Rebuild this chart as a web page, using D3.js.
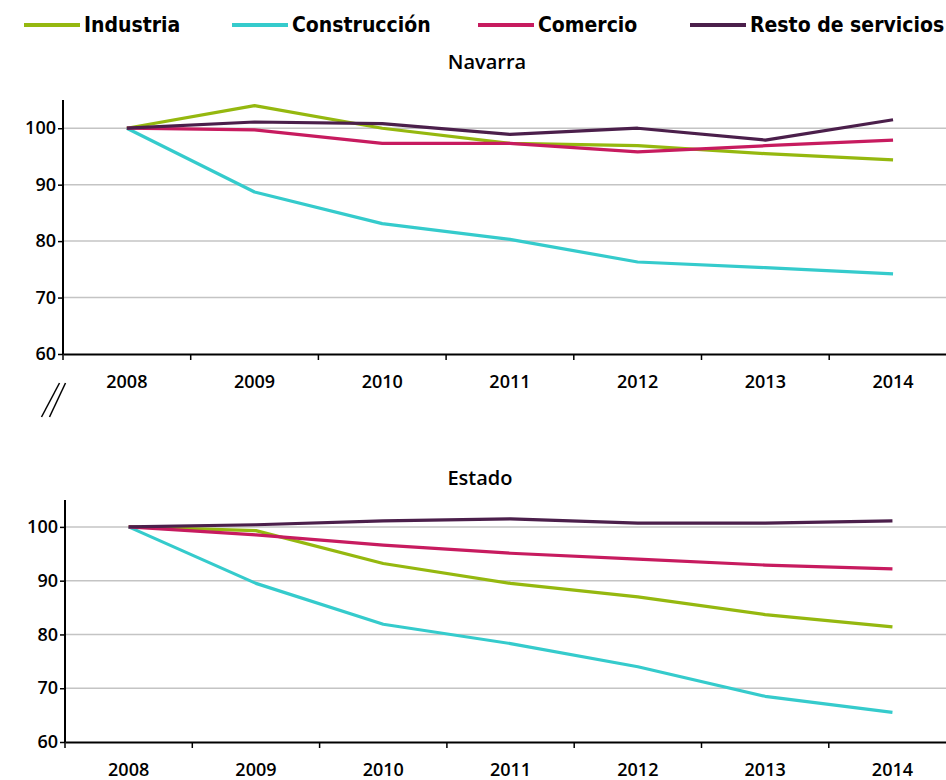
<!DOCTYPE html>
<html>
<head>
<meta charset="utf-8">
<script src="https://cdn.jsdelivr.net/npm/d3@7"></script>
<style>
  body { margin: 0; background: #fff; }
  svg text { font-family: "Open Sans", "Noto Sans", sans-serif; fill: #000; }
  .legend text { font-family: "DejaVu Sans Condensed", "DejaVu Sans", sans-serif; font-stretch: condensed; font-weight: bold; font-size: 21px; }
</style>
</head>
<body>
<div id="chart"></div>
<script>
const years = ["2008", "2009", "2010", "2011", "2012", "2013", "2014"];
const seriesNames = ["Industria", "Construcción", "Comercio", "Resto de servicios"];
const seriesColors = ["#95b80f", "#35cbcc", "#c71b5f", "#4b1f4b"];
const yTicks = [60, 70, 80, 90, 100];

// Navarra
const navIndustria = [100, 104.0, 100.0, 97.3, 96.9, 95.5, 94.4];
const navConstruccion = [100, 88.7, 83.1, 80.3, 76.3, 75.3, 74.2];
const navComercio = [100, 99.7, 97.3, 97.3, 95.8, 96.9, 97.9];
const navResto = [100, 101.1, 100.8, 98.9, 100.0, 97.9, 101.5];

// Estado
const estIndustria = [100, 99.3, 93.2, 89.5, 87.0, 83.7, 81.4];
const estConstruccion = [100, 89.5, 81.9, 78.3, 74.0, 68.5, 65.5];
const estComercio = [100, 98.5, 96.6, 95.1, 94.0, 92.9, 92.2];
const estResto = [100, 100.4, 101.1, 101.5, 100.7, 100.7, 101.1];

const width = 946, height = 780;
const svg = d3.select("#chart").append("svg")
  .attr("width", width)
  .attr("height", height);

// legend
const legendPos = [24, 232, 478, 690];
const legend = svg.append("g").attr("class", "legend")
  .selectAll("g")
  .data(seriesNames)
  .enter()
  .append("g")
  .attr("transform", (d, i) => "translate(" + legendPos[i] + ",25)");
legend.append("line")
  .attr("x1", 0).attr("x2", 56)
  .attr("stroke", (d, i) => seriesColors[i])
  .attr("stroke-width", 4);
legend.append("text")
  .attr("x", 60)
  .attr("dy", "0.35em")
  .text(d => d);

function drawPanel(cfg) {
  const g = svg.append("g");
  const x = d3.scaleBand().domain(years).range([cfg.left, cfg.left + years.length * cfg.band]);
  const y = d3.scaleLinear().domain([60, 105]).range([cfg.bottom, cfg.top]);

  g.append("text")
    .attr("x", cfg.titleX)
    .attr("y", cfg.titleY)
    .attr("text-anchor", "middle")
    .attr("font-size", 20)
    .attr("font-weight", 600)
    .text(cfg.title);

  // gridlines
  g.append("g").selectAll("line")
    .data(yTicks.slice(1))
    .enter()
    .append("line")
    .attr("x1", cfg.left).attr("x2", width)
    .attr("y1", d => y(d)).attr("y2", d => y(d))
    .attr("stroke", "#c4c4c4")
    .attr("stroke-width", 1.5);

  // y axis
  const yAxis = g.append("g")
    .attr("transform", "translate(" + cfg.left + ",0)")
    .call(d3.axisLeft(y).tickValues(yTicks).tickSize(5).tickPadding(2));
  yAxis.select(".domain").attr("stroke", "#000").attr("stroke-width", 2)
    .attr("d", "M0," + cfg.top + "V" + cfg.bottom);
  yAxis.selectAll(".tick line").attr("stroke", "#000").attr("stroke-width", 1.5);
  yAxis.selectAll("text")
    .attr("font-size", 18)
    .attr("font-weight", 600)
    .attr("fill", "#000")
    .attr("font-family", "'Open Sans', sans-serif");

  // x axis
  const xAxis = g.append("g")
    .attr("transform", "translate(0," + cfg.bottom + ")")
    .call(d3.axisBottom(x).tickSize(0).tickPadding(21));
  xAxis.select(".domain").attr("stroke", "#000").attr("stroke-width", 2);
  xAxis.selectAll("text")
    .attr("font-size", 18)
    .attr("font-weight", 600)
    .attr("fill", "#000")
    .attr("font-family", "'Open Sans', sans-serif");
  xAxis.selectAll(".bound")
    .data(years)
    .enter()
    .append("line")
    .attr("class", "bound")
    .attr("x1", d => x(d)).attr("x2", d => x(d))
    .attr("y1", 0).attr("y2", 6)
    .attr("stroke", "#000")
    .attr("stroke-width", 1.5);

  const line = d3.line()
    .x((d, i) => x(years[i]) + x.bandwidth() / 2)
    .y(d => y(d));

  g.append("g").selectAll("path")
    .data(cfg.series)
    .enter()
    .append("path")
    .attr("d", d => line(d))
    .attr("fill", "none")
    .attr("stroke", (d, i) => seriesColors[i])
    .attr("stroke-width", 3.2)
    .attr("stroke-linejoin", "round");
  return g;
}

drawPanel({
  title: "Navarra", titleX: 487, titleY: 69,
  left: 63, band: 127.7, top: 100, bottom: 354,
  series: [navIndustria, navConstruccion, navComercio, navResto]
});

drawPanel({
  title: "Estado", titleX: 480, titleY: 485,
  left: 65, band: 127.3, top: 500, bottom: 742,
  series: [estIndustria, estConstruccion, estComercio, estResto]
});

// axis break mark
const brk = svg.append("g").attr("stroke", "#000").attr("stroke-width", 1.5);
brk.append("line").attr("x1", 41.5).attr("y1", 417).attr("x2", 59.5).attr("y2", 383);
brk.append("line").attr("x1", 49.5).attr("y1", 417).attr("x2", 65.5).attr("y2", 383);
</script>
</body>
</html>
